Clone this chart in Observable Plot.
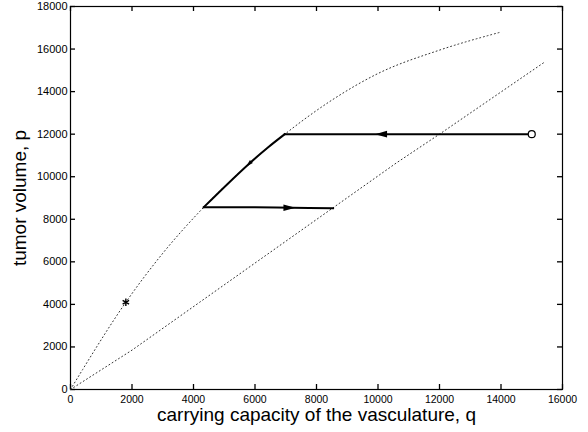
<!DOCTYPE html>
<html>
<head>
<meta charset="utf-8">
<script src="https://cdn.jsdelivr.net/npm/d3@7"></script>
<script src="https://cdn.jsdelivr.net/npm/@observablehq/plot@0.6"></script>
<style>
  html, body { margin: 0; padding: 0; background: white; }
</style>
</head>
<body>
<div id="chart"></div>
<script>
// ---- data ----
const xTicks = [0, 2000, 4000, 6000, 8000, 10000, 12000, 14000, 16000];
const yTicks = [0, 2000, 4000, 6000, 8000, 10000, 12000, 14000, 16000, 18000];
const xLabel = "carrying capacity of the vasculature, q";
const yLabel = "tumor volume, p";

// upper dotted nullcline
const upperQ = [0, 400, 1800, 3000, 4336, 5800, 6970, 8500, 10000, 12000, 14000];
const upperP = [0, 950, 4100, 6400, 8570, 10600, 12000, 13600, 14850, 15950, 16800];
// lower dotted nullcline
const lowerQ = [0, 2000, 4200, 10600, 12000, 15400];
const lowerP = [0, 1850, 4100, 10650, 12000, 15370];
// trajectory (solid), in three legs
const trajLeg = [1, 1, 1, 2, 2, 2, 2, 2, 3, 3, 3, 3];
const trajQ = [15000, 10000, 6970, 6970, 6400, 5800, 5100, 4336, 4336, 6000, 7200, 8540];
const trajP = [12000, 12000, 12000, 12000, 11350, 10600, 9650, 8570, 8570, 8560, 8540, 8520];
// start marker (o) and equilibrium marker (*)
const startQ = [15000], startP = [12000];
const starQ = [1800], starP = [4100];
// arrowheads: position and heading (degrees, clockwise from +x)
const bigArrowQ = [10100, 7120], bigArrowP = [12000, 8540], bigArrowDir = [180, 0];
const smallArrowQ = [5800], smallArrowP = [10600], smallArrowDir = [136];

const zip = (qs, ps) => qs.map((q, i) => ({q, p: ps[i]}));
const upper = zip(upperQ, upperP);
const lower = zip(lowerQ, lowerP);
const traj = trajQ.map((q, i) => ({q, p: trajP[i], leg: trajLeg[i]}));
const start = zip(startQ, startP);
const star = zip(starQ, starP);
const bigArrows = bigArrowQ.map((q, i) => ({q, p: bigArrowP[i], dir: bigArrowDir[i]}));
const smallArrows = smallArrowQ.map((q, i) => ({q, p: smallArrowP[i], dir: smallArrowDir[i]}));

const arrowHead = (w) => ({
  draw(ctx, size) {
    const r = Math.sqrt(size / Math.PI);
    ctx.moveTo(r, 0);
    ctx.lineTo(-r, -w * r);
    ctx.lineTo(-r, w * r);
    ctx.closePath();
  }
});

const fmt = d => String(d);

const W = 588, H = 432;
const mL = 70, mR = 26, mT = 6, mB = 43;
const innerW = W - mL - mR, innerH = H - mT - mB;
const T = 5; // inward tick length

const chart = Plot.plot({
  width: W,
  height: H,
  marginLeft: mL,
  marginRight: mR,
  marginTop: mT,
  marginBottom: mB,
  x: {domain: [0, 16000]},
  y: {domain: [0, 18000]},
  style: {fontFamily: "'Liberation Sans', Arial, Helvetica, sans-serif", background: "white", color: "black"},
  marks: [
    Plot.axisX(xTicks, {anchor: "bottom", tickSize: 0, tickPadding: 6, fontSize: 10.5, label: null, tickFormat: fmt}),
    Plot.axisY(yTicks, {anchor: "left", tickSize: 0, tickPadding: 3, fontSize: 11, label: null, tickFormat: fmt}),
    // inward tick marks on all four sides
    Plot.ruleX(xTicks, {x: d => d, insetTop: innerH - T, stroke: "black", strokeWidth: 1.3}),
    Plot.ruleX(xTicks, {x: d => d, insetBottom: innerH - T, stroke: "black", strokeWidth: 1.3}),
    Plot.ruleY(yTicks, {y: d => d, insetRight: innerW - T, stroke: "black", strokeWidth: 1.3}),
    Plot.ruleY(yTicks, {y: d => d, insetLeft: innerW - T, stroke: "black", strokeWidth: 1.3}),
    Plot.frame({stroke: "black", strokeWidth: 1.2}),
    Plot.line(upper, {x: "q", y: "p", stroke: "#333", strokeWidth: 1, strokeDasharray: "1,2.8", curve: "monotone-x"}),
    Plot.line(lower, {x: "q", y: "p", stroke: "#333", strokeWidth: 1, strokeDasharray: "1,2.8"}),
    Plot.line(traj, {x: "q", y: "p", z: "leg", stroke: "black", strokeWidth: 2, curve: "catmull-rom", strokeLinecap: "square"}),
    Plot.dot(bigArrows, {x: "q", y: "p", r: 6, rotate: "dir", symbol: arrowHead(0.55), fill: "black", stroke: "none"}),
    Plot.dot(smallArrows, {x: "q", y: "p", r: 3.5, rotate: "dir", symbol: arrowHead(0.6), fill: "black", stroke: "none"}),
    Plot.dot(start, {x: "q", y: "p", r: 3.5, stroke: "black", fill: "white", strokeWidth: 1.2}),
    Plot.dot(star, {x: "q", y: "p", r: 3.5, symbol: "asterisk", stroke: "black", strokeWidth: 1.4}),
    Plot.text([xLabel], {frameAnchor: "bottom", dy: 31, lineAnchor: "bottom", textAnchor: "middle", fontSize: 19, text: d => d}),
    Plot.text([yLabel], {frameAnchor: "left", dx: -44.5, rotate: -90, lineAnchor: "bottom", textAnchor: "middle", fontSize: 19, text: d => d})
  ]
});
document.getElementById("chart").appendChild(chart);
</script>
</body>
</html>
